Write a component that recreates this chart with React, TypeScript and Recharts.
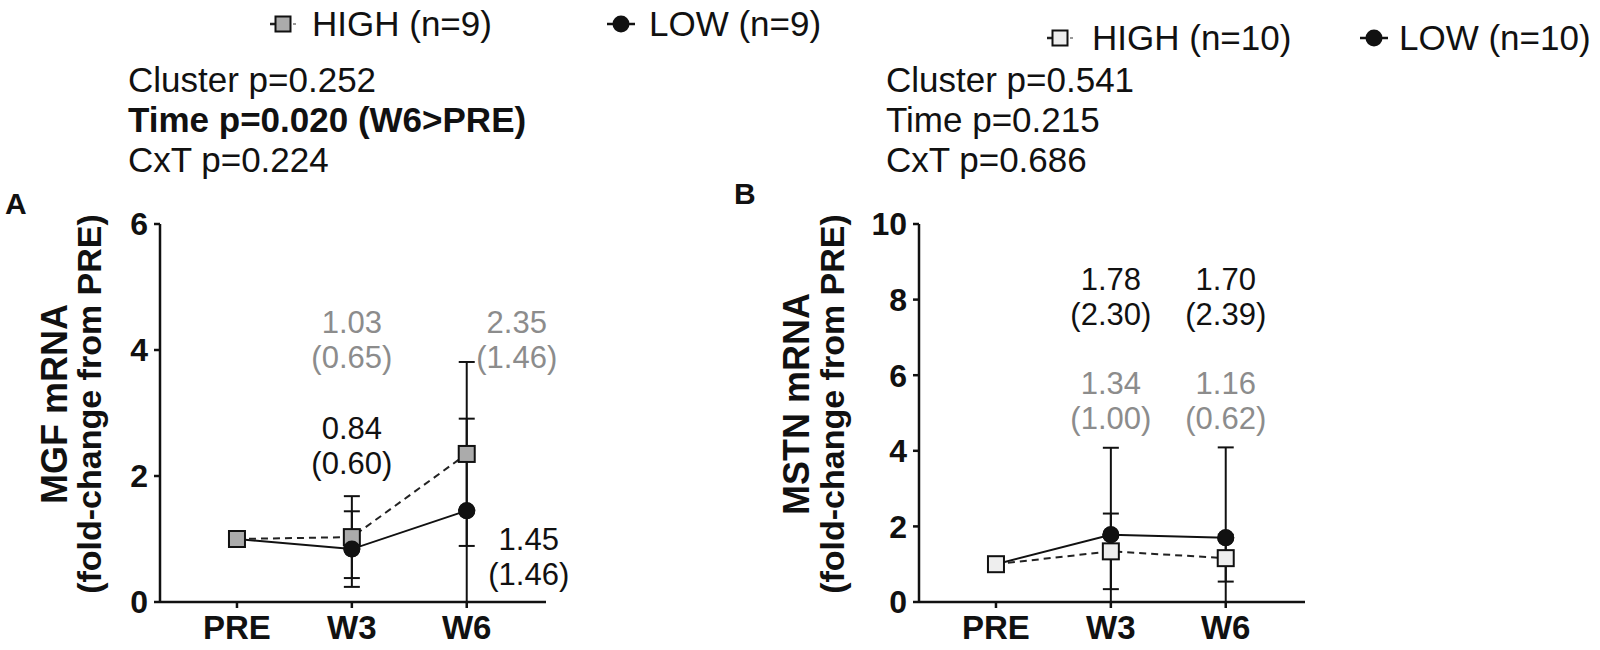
import React from "react"
import { LineChart, Line, XAxis, YAxis, ErrorBar, ReferenceDot } from "recharts"

const timepoints = ["PRE", "W3", "W6"]

// panel A - MGF mRNA, mean (SD) fold-change from PRE
const mgfHighMean = [1.0, 1.03, 2.35]
const mgfHighSd = [0, 0.65, 1.46]
const mgfLowMean = [1.0, 0.84, 1.45]
const mgfLowSd = [0, 0.6, 1.46]
const mgfTicks = [0, 2, 4, 6]

// panel B - MSTN mRNA
const mstnHighMean = [1.0, 1.34, 1.16]
const mstnHighSd = [0, 1.0, 0.62]
const mstnLowMean = [1.0, 1.78, 1.7]
const mstnLowSd = [0, 2.3, 2.39]
const mstnTicks = [0, 2, 4, 6, 8, 10]

const mgfStats = ["Cluster p=0.252", "Time p=0.020 (W6>PRE)", "CxT p=0.224"]
const mstnStats = ["Cluster p=0.541", "Time p=0.215", "CxT p=0.686"]

const FONT = "'Liberation Sans', Arial, Helvetica, sans-serif"
const INK = "#111"
const GRAY_TEXT = "#8c8c8c"

function buildRows(highMean: number[], highSd: number[], lowMean: number[], lowSd: number[]) {
  // lower whisker stops at the x axis, like in the figure
  return timepoints.map((name, i) => ({
    t: i,
    name,
    high: highMean[i],
    highErr: [Math.min(highSd[i], highMean[i]), highSd[i]],
    low: lowMean[i],
    lowErr: [Math.min(lowSd[i], lowMean[i]), lowSd[i]],
  }))
}

const mgfRows = buildRows(mgfHighMean, mgfHighSd, mgfLowMean, mgfLowSd)
const mstnRows = buildRows(mstnHighMean, mstnHighSd, mstnLowMean, mstnLowSd)

type Note = { series: "high" | "low"; index: number; y: number; dx: number }

function NoteText({ cx, cy, dx, lines, color }: any) {
  if (cx == null || cy == null) return null
  return (
    <g fontFamily={FONT} fontSize={31} fill={color} textAnchor="middle">
      <text x={cx + dx} y={cy - 17.5} dominantBaseline="central">{lines[0]}</text>
      <text x={cx + dx} y={cy + 17.5} dominantBaseline="central">{lines[1]}</text>
    </g>
  )
}

interface PanelProps {
  left: number
  rows: ReturnType<typeof buildRows>
  yMax: number
  yTicks: number[]
  highFill: string
  highMean: number[]
  highSd: number[]
  lowMean: number[]
  lowSd: number[]
  notes: Note[]
}

function Panel({ left, rows, yMax, yTicks, highFill, highMean, highSd, lowMean, lowSd, notes }: PanelProps) {
  return (
    <div style={{ position: "absolute", left, top: 200 }}>
      <LineChart width={600} height={450} data={rows} margin={{ top: 24, right: 54, bottom: 8, left: 100 }}>
        <XAxis
          type="number"
          dataKey="t"
          domain={[-0.67, 2.69]}
          ticks={[0, 1, 2]}
          tickFormatter={(v) => timepoints[v] ?? ""}
          height={40}
          tickSize={6}
          tickMargin={8}
          stroke={INK}
          strokeWidth={2.5}
          tick={{ fontSize: 33, fill: INK, fontFamily: FONT, fontWeight: "bold" }}
        />
        <YAxis
          type="number"
          domain={[0, yMax]}
          ticks={yTicks}
          width={60}
          tickSize={6}
          tickMargin={6}
          stroke={INK}
          strokeWidth={2.5}
          tick={{ fontSize: 32, fill: INK, fontFamily: FONT, fontWeight: "bold" }}
        />
        <Line
          dataKey="low"
          type="linear"
          stroke={INK}
          strokeWidth={2}
          isAnimationActive={false}
          activeDot={false}
          dot={(p: any) =>
            // where both groups coincide (PRE) only the HIGH marker shows
            p.value === rows[p.index].high ? (
              <g key={`l-${p.index}`} />
            ) : (
              <circle key={`l-${p.index}`} cx={p.cx} cy={p.cy} r={8.5} fill={INK} stroke="none" />
            )
          }
        >
          <ErrorBar dataKey="lowErr" direction="y" width={8} strokeWidth={2} stroke={INK} />
        </Line>
        <Line
          dataKey="high"
          type="linear"
          stroke="#222"
          strokeWidth={2}
          strokeDasharray="7 5"
          isAnimationActive={false}
          activeDot={false}
          dot={(p: any) => (
            <rect key={`h-${p.index}`} x={p.cx - 8} y={p.cy - 8} width={16} height={16} fill={highFill} stroke={INK} strokeWidth={2} strokeDasharray="none" />
          )}
        >
          <ErrorBar dataKey="highErr" direction="y" width={8} strokeWidth={2} stroke={INK} />
        </Line>
        <Line
          dataKey="low"
          type="linear"
          stroke="none"
          isAnimationActive={false}
          activeDot={false}
          legendType="none"
          dot={(p: any) =>
            p.value === rows[p.index].high ? (
              <g key={`l2-${p.index}`} />
            ) : (
              <circle key={`l2-${p.index}`} cx={p.cx} cy={p.cy} r={8.5} fill={INK} stroke="none" />
            )
          }
        />
        {notes.map((n, k) => {
          const mean = n.series === "high" ? highMean : lowMean
          const sd = n.series === "high" ? highSd : lowSd
          const lines = [mean[n.index].toFixed(2), `(${sd[n.index].toFixed(2)})`]
          return (
            <ReferenceDot
              key={k}
              x={n.index}
              y={n.y}
              r={0}
              ifOverflow="visible"
              shape={(p: any) => (
                <NoteText cx={p.cx} cy={p.cy} dx={n.dx} lines={lines} color={n.series === "high" ? GRAY_TEXT : INK} />
              )}
            />
          )
        })}
      </LineChart>
    </div>
  )
}

function HighSymbol({ x, y, fill }: { x: number; y: number; fill: string }) {
  return (
    <g>
      <line x1={x - 13} y1={y} x2={x - 6} y2={y} stroke="#222" strokeWidth={2.5} />
      <line x1={x + 10} y1={y} x2={x + 13} y2={y} stroke="#999" strokeWidth={2} />
      <rect x={x - 7.5} y={y - 7.5} width={15} height={15} fill={fill} stroke={INK} strokeWidth={2} />
    </g>
  )
}

function LowSymbol({ x, y }: { x: number; y: number }) {
  return (
    <g>
      <line x1={x - 14} y1={y} x2={x + 14} y2={y} stroke={INK} strokeWidth={2.5} />
      <circle cx={x} cy={y} r={8.5} fill={INK} />
    </g>
  )
}

function Overlay() {
  const txt = { fontFamily: FONT, fontSize: 35, fill: INK }
  return (
    <svg width={1600} height={650} style={{ position: "absolute", left: 0, top: 0, pointerEvents: "none" }}>
      {/* legends */}
      <HighSymbol x={283} y={24} fill="#ababab" />
      <text x={312} y={36} {...txt}>HIGH (n=9)</text>
      <LowSymbol x={621} y={24} />
      <text x={649} y={36} {...txt}>LOW (n=9)</text>

      <HighSymbol x={1060} y={38} fill="#eeeeee" />
      <text x={1092} y={50} {...txt}>HIGH (n=10)</text>
      <LowSymbol x={1374} y={38} />
      <text x={1399} y={50} {...txt}>LOW (n=10)</text>

      {/* statistics */}
      {mgfStats.map((s, i) => (
        <text key={s} x={128} y={92 + i * 40} {...txt} fontWeight={i === 1 ? "bold" : "normal"}>{s}</text>
      ))}
      {mstnStats.map((s, i) => (
        <text key={s} x={886} y={92 + i * 40} {...txt}>{s}</text>
      ))}

      {/* panel letters */}
      <text x={5} y={214} fontFamily={FONT} fontSize={30} fontWeight="bold" fill={INK}>A</text>
      <text x={734} y={204} fontFamily={FONT} fontSize={30} fontWeight="bold" fill={INK}>B</text>

      {/* y axis titles */}
      <g fontFamily={FONT} fontWeight="bold" fill={INK} textAnchor="middle">
        <text transform="translate(54,404) rotate(-90)" fontSize={36} dominantBaseline="central">MGF mRNA</text>
        <text transform="translate(89,404) rotate(-90)" fontSize={34} dominantBaseline="central">(fold-change from PRE)</text>
        <text transform="translate(796,404) rotate(-90)" fontSize={36} dominantBaseline="central">MSTN mRNA</text>
        <text transform="translate(832,404) rotate(-90)" fontSize={34} dominantBaseline="central">(fold-change from PRE)</text>
      </g>
    </svg>
  )
}

const mgfNotes: Note[] = [
  { series: "high", index: 1, y: 4.16, dx: 0 },
  { series: "high", index: 2, y: 4.16, dx: 50 },
  { series: "low", index: 1, y: 2.48, dx: 0 },
  { series: "low", index: 2, y: 0.71, dx: 62 },
]

const mstnNotes: Note[] = [
  { series: "low", index: 1, y: 8.06, dx: 0 },
  { series: "low", index: 2, y: 8.06, dx: 0 },
  { series: "high", index: 1, y: 5.33, dx: 0 },
  { series: "high", index: 2, y: 5.33, dx: 0 },
]

export default function App() {
  return (
    <div style={{ position: "absolute", left: 0, top: 0, width: 1600, height: 650, background: "#fff", overflow: "hidden" }}>
      <Panel
        left={0}
        rows={mgfRows}
        yMax={6}
        yTicks={mgfTicks}
        highFill="#ababab"
        highMean={mgfHighMean}
        highSd={mgfHighSd}
        lowMean={mgfLowMean}
        lowSd={mgfLowSd}
        notes={mgfNotes}
      />
      <Panel
        left={759}
        rows={mstnRows}
        yMax={10}
        yTicks={mstnTicks}
        highFill="#eeeeee"
        highMean={mstnHighMean}
        highSd={mstnHighSd}
        lowMean={mstnLowMean}
        lowSd={mstnLowSd}
        notes={mstnNotes}
      />
      <Overlay />
    </div>
  )
}
